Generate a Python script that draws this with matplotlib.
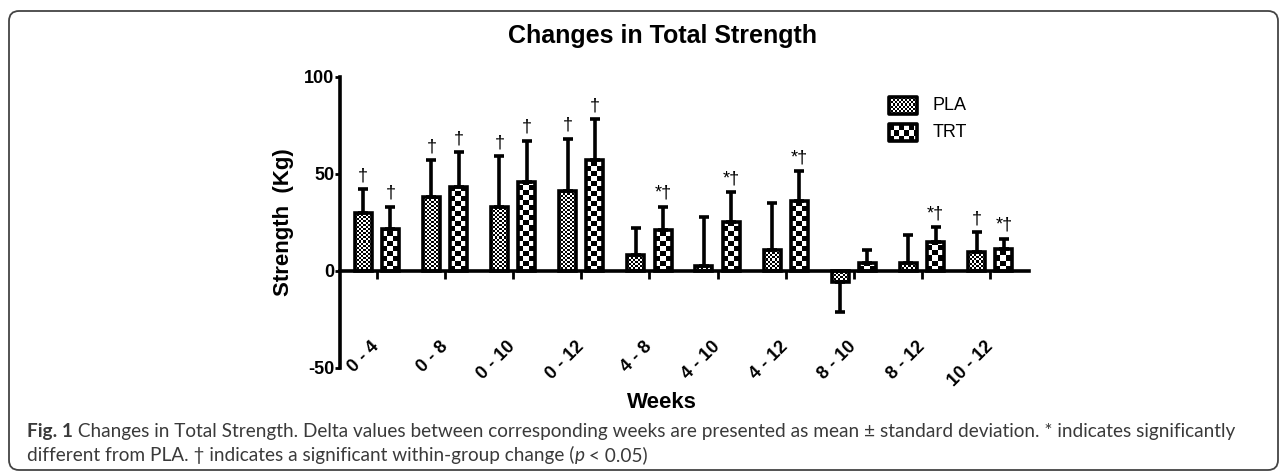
import numpy as np
import matplotlib
matplotlib.use('Agg')
import matplotlib.pyplot as plt
from matplotlib.patches import FancyBboxPatch, Rectangle
from matplotlib.transforms import IdentityTransform

plt.rcParams['font.family'] = ['Liberation Sans', 'DejaVu Sans']
plt.rcParams['axes.unicode_minus'] = False

weeks = ['0 - 4', '0 - 8', '0 - 10', '0 - 12', '4 - 8', '4 - 10', '4 - 12', '8 - 10', '8 - 12', '10 - 12']
pla_mean = [30, 38, 33, 41, 8, 2.5, 11, -5.5, 4, 9.5]
pla_sd = [12, 19, 26, 27, 14, 25, 24, 15.5, 14.5, 10.5]
trt_mean = [21.5, 43, 46, 57, 21, 25, 36, 4, 15, 11.5]
trt_sd = [11.5, 18, 21, 21, 12, 15.5, 15.5, 7, 7.5, 5]
pla_marks = ['†', '†', '†', '†', '', '', '', '', '', '†']
trt_marks = ['†', '†', '†', '†', '*†', '*†', '*†', '', '*†', '*†']
legend_labels = ['PLA', 'TRT']
yticks = [-50, 0, 50, 100]

W, H = 1287, 474
fig = plt.figure(figsize=(W / 100, H / 100), dpi=100)
ax = fig.add_axes([340 / W, 1 - 368 / H, 689 / W, 291.3 / H])
ax.set_xlim(-0.54, 9.57)
ax.set_ylim(-50, 100)

LW = 2.6


def checker(ax, patch, cell):
    # fill a patch with a pixel aligned checkerboard
    x0, y0 = patch.get_xy()
    w, h = patch.get_width(), patch.get_height()
    (px0, py0), (px1, py1) = ax.transData.transform([(x0, y0), (x0 + w, y0 + h)])
    nx = max(1, int(round(abs(px1 - px0))))
    ny = max(1, int(round(abs(py1 - py0))))
    yy, xx = np.mgrid[0:ny, 0:nx]
    img = ((xx // cell + yy // cell) % 2).astype(float)
    im = ax.imshow(img, cmap='gray', vmin=0, vmax=1, origin='lower',
                   extent=(x0, x0 + w, min(y0, y0 + h), max(y0, y0 + h)),
                   interpolation='nearest', aspect='auto', zorder=1.5)
    im.set_clip_path(patch)


def err(xs, mean, sd):
    mean = np.array(mean)
    sd = np.array(sd)
    lower = np.where(mean < 0, sd, 0)
    upper = np.where(mean >= 0, sd, 0)
    ax.errorbar(xs, mean, yerr=[lower, upper], fmt='none', ecolor='black',
                elinewidth=LW, capsize=3.8, capthick=LW, zorder=3)


x = np.arange(len(weeks))
bw = 0.25
series = [(x - 0.2, pla_mean, pla_sd, pla_marks, 2),
          (x + 0.2, trt_mean, trt_sd, trt_marks, 5)]

for xs, mean, sd, marks, cell in series:
    bars = ax.bar(xs, mean, bw, facecolor='none', edgecolor='black', linewidth=LW, zorder=2)
    for b in bars:
        checker(ax, b, cell)
    err(xs, mean, sd)
    for xi, m, s, t in zip(xs, mean, sd, marks):
        if t:
            ax.annotate(t, (xi, m + s), xytext=(0, 3.5), textcoords='offset points',
                        ha='center', va='bottom', fontsize=13)

# legend drawn by hand so the swatches get the same checker fill
for i, (lab, cell) in enumerate(zip(legend_labels, [2, 5])):
    y_top = 89.7 - i * 14.0
    r = Rectangle((7.51, y_top - 8.8), 0.42, 8.8, facecolor='none', edgecolor='black',
                  linewidth=LW, joinstyle='round', zorder=2)
    ax.add_patch(r)
    checker(ax, r, cell)
    ax.text(8.16, y_top - 4.4, lab, va='center', ha='left', fontsize=13)

ax.set_xlim(-0.54, 9.57)
ax.set_ylim(-50, 100)

for s in ['top', 'right']:
    ax.spines[s].set_visible(False)
ax.spines['bottom'].set_position(('data', 0))
ax.spines['left'].set_linewidth(LW)
ax.spines['bottom'].set_linewidth(LW)

ax.set_xticks(x, weeks)
ax.set_yticks(yticks)
ax.tick_params(axis='x', length=5.8, width=2, pad=47, labelsize=13)
ax.tick_params(axis='y', length=3.5, width=2, pad=0.5, labelsize=13)
for lab in ax.get_xticklabels():
    lab.set(rotation=45, ha='right', va='center', rotation_mode='anchor', fontweight='bold')
for lab in ax.get_yticklabels():
    lab.set_fontweight('bold')

ax.set_ylabel('Strength  (Kg)', fontsize=16, fontweight='bold')
ax.yaxis.set_label_coords(-46 / 689, 0.5)

fig.text(662 / W, 1 - 36 / H, 'Changes in Total Strength', ha='center', va='center',
         fontsize=18, fontweight='bold')
fig.text(662 / W, 1 - 402 / H, 'Weeks', ha='center', va='center', fontsize=16, fontweight='bold')

# caption under the figure
cap = dict(family=['Lato', 'DejaVu Sans'], fontsize=13.7, color='#3a3a3a')


def caption_line(y, parts):
    t = fig.text(27 / W, 1 - y / H, parts[0][0], va='baseline', **cap, **parts[0][1])
    for s, kw in parts[1:]:
        t = ax.annotate(s, xy=(1, 0), xycoords=t, va='bottom', ha='left',
                        annotation_clip=False, **cap, **kw)


caption_line(437, [('Fig. 1', dict(fontweight='bold')),
                   (' Changes in Total Strength. Delta values between corresponding weeks are '
                    'presented as mean ± standard deviation. * indicates significantly', {})])
caption_line(461, [('different from PLA. † indicates a significant within-group change (', {}),
                   ('p', dict(fontstyle='italic')),
                   (' < 0.05)', {})])

border = FancyBboxPatch((9, H - 470), 1278 - 9, 470 - 11,
                        boxstyle='round,pad=0,rounding_size=10', transform=IdentityTransform(),
                        fill=False, edgecolor='#444444', linewidth=1.3)
fig.add_artist(border)

fig.savefig('out.png', dpi=100)
